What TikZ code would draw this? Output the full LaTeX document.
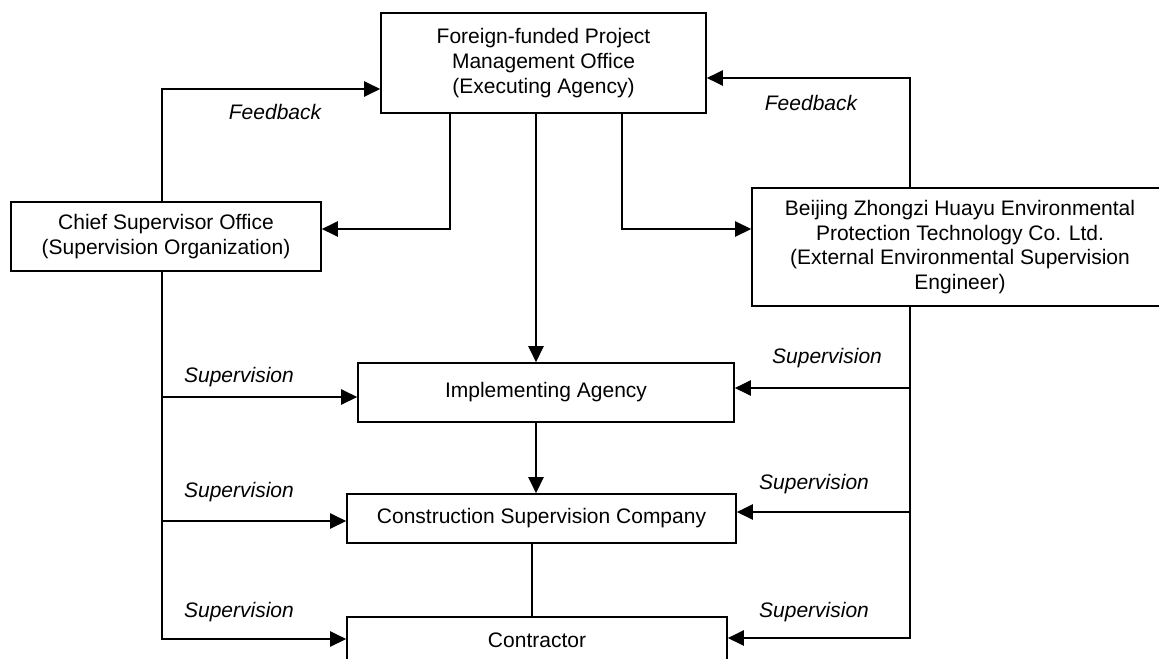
\documentclass[tikz,border=0pt]{standalone}
\usepackage{fontspec}
\setmainfont{Liberation Sans}
\usetikzlibrary{arrows.meta,positioning,calc}

\begin{document}
\begin{tikzpicture}[x=.5pt,y=-.5pt,
  unit/.style={draw,line width=.8pt,inner sep=0pt,align=center,font=\fontsize{10.5}{12.4}\selectfont},
  arr/.style={-{Triangle[length=8pt,width=7.5pt]},line width=1.2pt},
  wire/.style={line width=1.2pt},
  tag/.style={inner sep=0pt,font=\fontsize{10.5}{12.4}\selectfont\itshape}]
\useasboundingbox (0,0) rectangle (1159,658);
\node[unit,minimum width=162.5pt,minimum height=50pt] (pmo) at (543.5,63) {Foreign-funded Project\\Management Office\\(Executing Agency)};
\node[unit,minimum width=155pt,minimum height=34.5pt] (cso) at (166,236.5) {Chief Supervisor Office\\(Supervision Organization)};
\node[unit,minimum width=208pt,minimum height=59pt] (ext) at (960,247) {Beijing Zhongzi Huayu Environmental\\Protection Technology Co. Ltd.\\(External Environmental Supervision\\Engineer)};
\node[unit,minimum width=188pt,minimum height=29.5pt] (impl) at (546,392.5) {Implementing Agency};
\node[unit,minimum width=194.5pt,minimum height=24.5pt] (csc) at (541.5,518.5) {Construction Supervision Company};
\node[unit,minimum width=190pt,minimum height=23pt] (con) at (537,640) {Contractor};
\coordinate (lbus) at (162,89);
\coordinate (rbus) at (910,78);
\coordinate (pc) at (450,229);
\coordinate (pe) at (622,229);
\coordinate (mx) at (536,0);
\coordinate (cx) at (532,0);
\coordinate (l1) at (162,397);
\coordinate (l2) at (162,521);
\coordinate (l3) at (162,639);
\coordinate (r1) at (910,388);
\coordinate (r2) at (910,512);
\coordinate (r3) at (910,638);
\draw[arr] (cso.north -| lbus) |- (pmo.west |- lbus);
\draw[arr] (ext.north -| rbus) |- (pmo.east |- rbus);
\draw[arr] (pmo.south -| pc) |- (cso.east |- pc);
\draw[arr] (pmo.south -| pe) |- (ext.west |- pe);
\draw[arr] (pmo.south -| mx) -- (impl.north -| mx);
\draw[arr] (impl.south -| mx) -- (csc.north -| mx);
\draw[wire] (csc.south -| cx) -- (con.north -| cx);
\draw[arr] (cso.south -| l3) |- (con.west |- l3);
\draw[arr] (l1) -- (impl.west |- l1);
\draw[arr] (l2) -- (csc.west |- l2);
\draw[arr] (ext.south -| r3) |- (con.east |- r3);
\draw[arr] (r1) -- (impl.east |- r1);
\draw[arr] (r2) -- (csc.east |- r2);
\node[tag] (fbl) at (275,112) {Feedback};
\node[tag] (fbr) at (811,103) {Feedback};
\node[tag] (sl1) at (239,377) {Supervision};
\node[tag] (sl2) at (239,492) {Supervision};
\node[tag] (sl3) at (239,612) {Supervision};
\node[tag] (sr1) at (827,358) {Supervision};
\node[tag] (sr2) at (814,484) {Supervision};
\node[tag] (sr3) at (814,612) {Supervision};
\end{tikzpicture}
\end{document}
